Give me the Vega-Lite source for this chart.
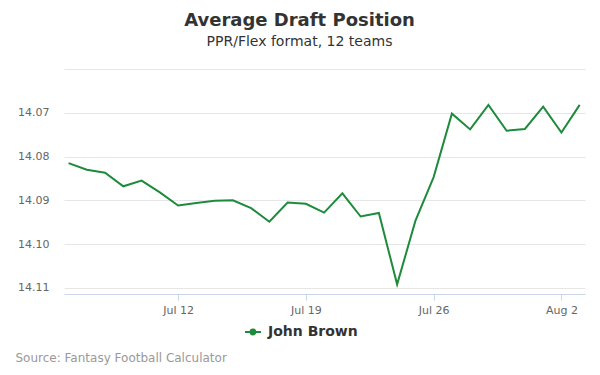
{
  "$schema": "https://vega.github.io/schema/vega-lite/v6.json",
  "autosize": {"type": "none"},
  "width": 521,
  "height": 225,
  "padding": {"left": 64, "top": 69, "right": 15, "bottom": 81},
  "background": "white",
  "config": {
    "font": "DejaVu Sans",
    "view": {"stroke": null}
  },
  "title": {
    "text": "Average Draft Position",
    "subtitle": "PPR/Flex format, 12 teams",
    "anchor": "middle",
    "dx": -25,
    "offset": 20,
    "fontSize": 18,
    "fontWeight": "bold",
    "color": "#333333",
    "subtitleFontSize": 14,
    "subtitleColor": "#333333",
    "subtitlePadding": 5,
    "font": "DejaVu Sans",
    "subtitleFont": "DejaVu Sans"
  },
  "data": {
    "values": [
      {"date": "2019-07-06T00:00:00", "adp": 14.0815, "player": "John Brown"},
      {"date": "2019-07-07T00:00:00", "adp": 14.0830, "player": "John Brown"},
      {"date": "2019-07-08T00:00:00", "adp": 14.0837, "player": "John Brown"},
      {"date": "2019-07-09T00:00:00", "adp": 14.0868, "player": "John Brown"},
      {"date": "2019-07-10T00:00:00", "adp": 14.0855, "player": "John Brown"},
      {"date": "2019-07-11T00:00:00", "adp": 14.0882, "player": "John Brown"},
      {"date": "2019-07-12T00:00:00", "adp": 14.0912, "player": "John Brown"},
      {"date": "2019-07-13T00:00:00", "adp": 14.0906, "player": "John Brown"},
      {"date": "2019-07-14T00:00:00", "adp": 14.0901, "player": "John Brown"},
      {"date": "2019-07-15T00:00:00", "adp": 14.0900, "player": "John Brown"},
      {"date": "2019-07-16T00:00:00", "adp": 14.0918, "player": "John Brown"},
      {"date": "2019-07-17T00:00:00", "adp": 14.0949, "player": "John Brown"},
      {"date": "2019-07-18T00:00:00", "adp": 14.0905, "player": "John Brown"},
      {"date": "2019-07-19T00:00:00", "adp": 14.0908, "player": "John Brown"},
      {"date": "2019-07-20T00:00:00", "adp": 14.0928, "player": "John Brown"},
      {"date": "2019-07-21T00:00:00", "adp": 14.0884, "player": "John Brown"},
      {"date": "2019-07-22T00:00:00", "adp": 14.0937, "player": "John Brown"},
      {"date": "2019-07-23T00:00:00", "adp": 14.0929, "player": "John Brown"},
      {"date": "2019-07-24T00:00:00", "adp": 14.1092, "player": "John Brown"},
      {"date": "2019-07-25T00:00:00", "adp": 14.0947, "player": "John Brown"},
      {"date": "2019-07-26T00:00:00", "adp": 14.0847, "player": "John Brown"},
      {"date": "2019-07-27T00:00:00", "adp": 14.0702, "player": "John Brown"},
      {"date": "2019-07-28T00:00:00", "adp": 14.0738, "player": "John Brown"},
      {"date": "2019-07-29T00:00:00", "adp": 14.0682, "player": "John Brown"},
      {"date": "2019-07-30T00:00:00", "adp": 14.0741, "player": "John Brown"},
      {"date": "2019-07-31T00:00:00", "adp": 14.0737, "player": "John Brown"},
      {"date": "2019-08-01T00:00:00", "adp": 14.0686, "player": "John Brown"},
      {"date": "2019-08-02T00:00:00", "adp": 14.0745, "player": "John Brown"},
      {"date": "2019-08-03T00:00:00", "adp": 14.0682, "player": "John Brown"}
    ]
  },
  "mark": {"type": "line", "strokeWidth": 2, "interpolate": "linear"},
  "encoding": {
    "x": {
      "field": "date",
      "type": "temporal",
      "scale": {
        "domain": [
          {"year": 2019, "month": 7, "date": 5, "hours": 18},
          {"year": 2019, "month": 8, "date": 3, "hours": 7}
        ]
      },
      "axis": {
        "values": [
          {"year": 2019, "month": 7, "date": 12},
          {"year": 2019, "month": 7, "date": 19},
          {"year": 2019, "month": 7, "date": 26},
          {"year": 2019, "month": 8, "date": 2}
        ],
        "format": "%b %-d",
        "grid": false,
        "domainColor": "#ccd6eb",
        "tickColor": "#ccd6eb",
        "tickSize": 6,
        "labelColor": "#666666",
        "labelFontSize": 11,
        "labelPadding": 4,
        "labelFont": "DejaVu Sans",
        "title": "Source: Fantasy Football Calculator",
        "titleAnchor": "start",
        "titleAlign": "left",
        "titleX": -49,
        "titleY": 67,
        "titleBaseline": "alphabetic",
        "titleFontSize": 12,
        "titleFontWeight": "normal",
        "titleColor": "#999999",
        "titleFont": "DejaVu Sans"
      }
    },
    "y": {
      "field": "adp",
      "type": "quantitative",
      "scale": {"domain": [14.06, 14.1114], "reverse": true, "zero": false, "nice": false},
      "axis": {
        "values": [14.06, 14.07, 14.08, 14.09, 14.10, 14.11],
        "labelExpr": "datum.value < 14.065 ? '' : format(datum.value, '.2f')",
        "domain": false,
        "ticks": false,
        "gridColor": "#e6e6e6",
        "labelColor": "#666666",
        "labelFontSize": 11,
        "labelPadding": 15,
        "labelFont": "DejaVu Sans",
        "title": null
      }
    },
    "color": {
      "field": "player",
      "type": "nominal",
      "scale": {"domain": ["John Brown"], "range": ["#1e8b3c"]},
      "legend": {
        "orient": "none",
        "legendX": 180,
        "legendY": 254,
        "title": null,
        "padding": 0,
        "symbolType": "M-1,0L1,0M-0.3,0A0.3,0.3,0,1,1,0.3,0A0.3,0.3,0,1,1,-0.3,0Z",
        "symbolSize": 256,
        "symbolStrokeWidth": 2,
        "symbolFillColor": "#1e8b3c",
        "symbolStrokeColor": "#1e8b3c",
        "labelFontSize": 14,
        "labelFontWeight": "bold",
        "labelColor": "#333333",
        "labelFont": "DejaVu Sans",
        "labelOffset": 6
      }
    }
  }
}
